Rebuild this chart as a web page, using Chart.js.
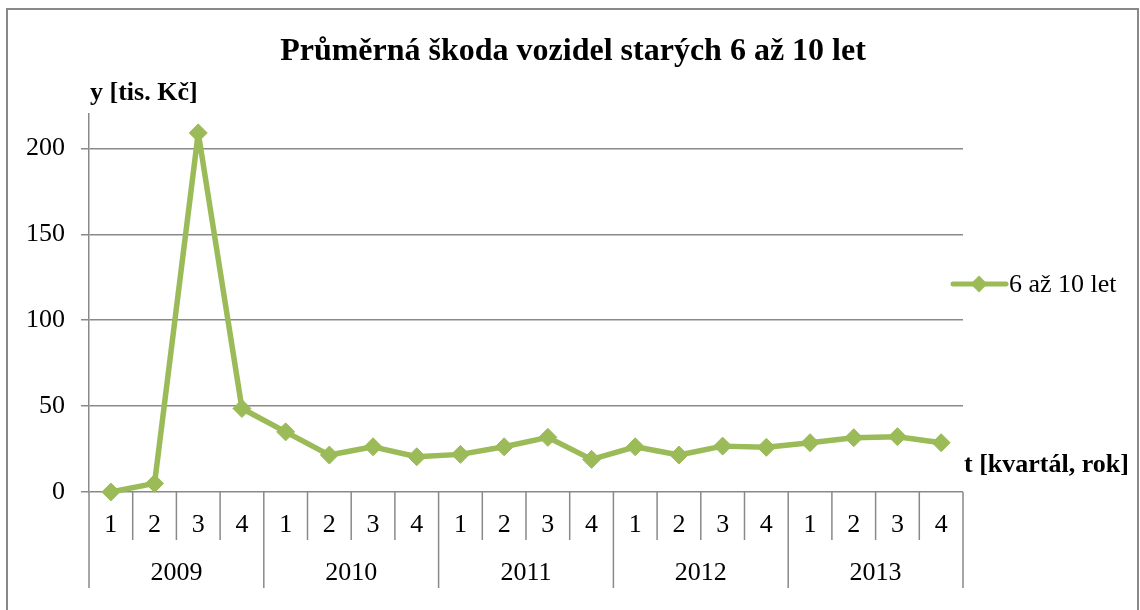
<!DOCTYPE html>
<html><head><meta charset="utf-8">
<script src="https://cdn.jsdelivr.net/npm/chart.js@4/dist/chart.umd.min.js"></script>
<style>html,body{margin:0;padding:0;background:#fff}canvas{display:block}</style>
</head><body>
<canvas id="c" width="1140" height="610"></canvas>
<script>
const years = ['2009', '2010', '2011', '2012', '2013'];
const quarters = ['1', '2', '3', '4'];
const values = [0, 5, 209, 48.6, 35, 21.5, 26.3, 20.5, 21.9, 26.3, 31.8, 19, 26.3, 21.5, 26.7, 26, 28.7, 31.6, 32.2, 28.7];
const yTicks = [0, 50, 100, 150, 200];
const seriesName = '6 až 10 let';
const titleText = 'Průměrná škoda vozidel starých 6 až 10 let';
const yTitle = 'y [tis. Kč]';
const xTitle = 't [kvartál, rok]';

const categories = [];
years.forEach(y => quarters.forEach(q => categories.push(q)));

const GREEN = '#9BBB59';
const GRAY = '#898989';
const FONT = "'Liberation Serif', 'Times New Roman', serif";

const customPlugin = {
  id: 'custom',
  afterDraw(chart) {
    const ctx = chart.ctx;
    const xs = chart.scales.x;
    const area = chart.chartArea;
    const n = categories.length;
    const step = xs.getPixelForValue(1) - xs.getPixelForValue(0);
    const base = area.bottom;
    ctx.save();
    // title
    ctx.fillStyle = '#000';
    ctx.textAlign = 'center';
    ctx.textBaseline = 'alphabetic';
    ctx.font = 'bold 32px ' + FONT;
    ctx.fillText(titleText, 573, 60);
    // separators
    ctx.strokeStyle = GRAY;
    ctx.lineWidth = 1.5;
    for (let i = 0; i <= n; i++) {
      const x = i < n ? xs.getPixelForValue(i) - step / 2 : xs.getPixelForValue(n - 1) + step / 2;
      const len = (i % quarters.length === 0) ? 96 : 48;
      ctx.beginPath();
      ctx.moveTo(x, base);
      ctx.lineTo(x, base + len);
      ctx.stroke();
    }
    // quarter labels
    ctx.textBaseline = 'middle';
    ctx.font = '26px ' + FONT;
    categories.forEach((q, i) => {
      ctx.fillText(q, xs.getPixelForValue(i), base + 33);
    });
    // year labels
    years.forEach((y, k) => {
      const a = xs.getPixelForValue(k * quarters.length);
      const b = xs.getPixelForValue(k * quarters.length + quarters.length - 1);
      ctx.fillText(y, (a + b) / 2, base + 81);
    });
    // axis titles
    ctx.font = 'bold 26px ' + FONT;
    ctx.textAlign = 'left';
    ctx.fillText(yTitle, 90, 93);
    ctx.fillText(xTitle, 964, 465);
    // legend
    const ds = chart.data.datasets[0];
    const ly = 284;
    ctx.strokeStyle = ds.borderColor;
    ctx.lineWidth = 5;
    ctx.lineCap = 'round';
    ctx.beginPath();
    ctx.moveTo(953, ly);
    ctx.lineTo(1006, ly);
    ctx.stroke();
    ctx.fillStyle = ds.backgroundColor;
    ctx.beginPath();
    ctx.moveTo(979, ly - 8.5);
    ctx.lineTo(987.5, ly);
    ctx.lineTo(979, ly + 8.5);
    ctx.lineTo(970.5, ly);
    ctx.closePath();
    ctx.fill();
    ctx.fillStyle = '#000';
    ctx.font = '26px ' + FONT;
    ctx.fillText(ds.label, 1009, ly + 1);
    // outer border
    ctx.strokeStyle = GRAY;
    ctx.lineWidth = 2;
    ctx.strokeRect(7, 9, 1131, 640);
    ctx.restore();
  }
};

new Chart(document.getElementById('c'), {
  type: 'line',
  data: {
    labels: categories,
    datasets: [{
      label: seriesName,
      data: values,
      borderColor: GREEN,
      backgroundColor: GREEN,
      borderWidth: 5.5,
      borderJoinStyle: 'round',
      borderCapStyle: 'round',
      tension: 0,
      pointStyle: 'rectRot',
      pointRadius: 9,
      pointBorderWidth: 1,
      pointBackgroundColor: GREEN,
      pointBorderColor: GREEN,
      clip: false
    }]
  },
  options: {
    responsive: false,
    animation: false,
    devicePixelRatio: 1,
    layout: { padding: { left: 0, right: 177, top: 114, bottom: 0 } },
    plugins: {
      legend: { display: false },
      tooltip: { enabled: false },
      title: { display: false }
    },
    scales: {
      x: {
        type: 'category',
        offset: true,
        grid: { display: false },
        border: { display: false },
        ticks: { display: false },
        afterFit(scale) { scale.height = 118; }
      },
      y: {
        min: 0,
        max: 220,
        afterFit(scale) { scale.width = 89; },
        afterBuildTicks(scale) { scale.ticks = yTicks.map(v => ({ value: v })); },
        ticks: {
          stepSize: 50,
          includeBounds: false,
          color: '#000',
          padding: 16,
          font: { family: FONT, size: 26 }
        },
        grid: { color: GRAY, lineWidth: 1.5, tickLength: 8 },
        border: { color: GRAY, width: 1.5 }
      }
    }
  },
  plugins: [customPlugin]
});
</script>
</body></html>
